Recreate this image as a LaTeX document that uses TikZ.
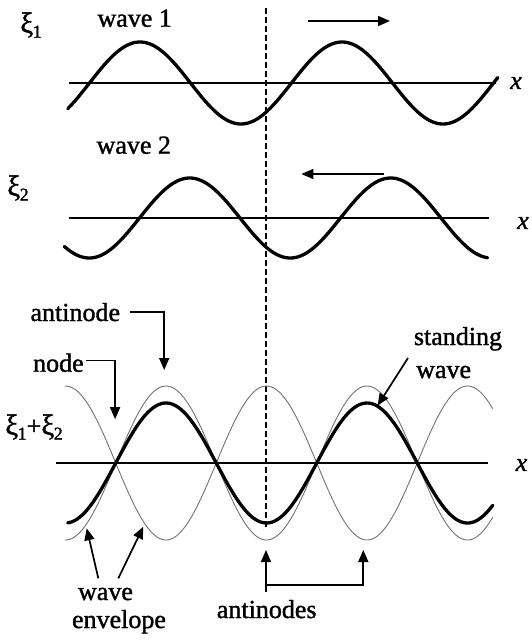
\documentclass[tikz,border=0pt]{standalone}
\usepackage{fontspec}
\setmainfont{Liberation Serif}
\newfontfamily\lblfont{Liberation Serif}[FakeBold=1.3]
\usetikzlibrary{arrows.meta}
\newcommand\xisub[1]{{\fontsize{29}{29}\selectfont ξ}\kern-0.5pt\raisebox{-5pt}{\fontsize{18}{18}\selectfont #1}}
\begin{document}
\begin{tikzpicture}[x=1pt,y=-1pt,
  lbl/.style={font=\lblfont\fontsize{26}{28}\selectfont, inner sep=0pt},
  axis/.style={line width=1.6pt},
  wave/.style={line width=3.3pt, line cap=round},
  env/.style={line width=0.9pt, black!55},
  arr/.style={line width=1.7pt, -{Triangle[length=12pt,width=10pt]}},
  guide/.style={line width=2pt, dash pattern=on 6pt off 3pt}]
\useasboundingbox[fill=white] (0,0) rectangle (531,643);

% dashed reference line
\coordinate (gTop) at (265.5,8);
\coordinate (gBot) at (265.5,529);
\draw[guide] (gTop) -- (gBot);

% ---------- wave 1 ----------
\coordinate (a1L) at (69.4,83);
\coordinate (a1R) at (496,83);
\draw[axis] (a1L) -- (a1R);
\draw[wave] plot[domain=67.7:497.8, samples=220] (\x, {83-41*sin(((\x-89.5)/202)*360)});
\node[lbl] (xi1) at (31,25) {\xisub{1}};
\node[lbl, anchor=base] (w1) at (134.7,26.7) {wave 1};
\node[lbl] (x1) at (516,83) {\textit{x}};
\coordinate (r1S) at (308,21);
\coordinate (r1T) at (390,21);
\draw[arr] (r1S) -- (r1T);

% ---------- wave 2 ----------
\coordinate (a2L) at (69.4,218);
\coordinate (a2R) at (488.7,218);
\draw[axis] (a2L) -- (a2R);
\draw[wave] plot[domain=64.3:487.6, samples=220] (\x, {218-40*sin(((\x-139.5)/201)*360)});
\node[lbl] (xi2) at (18,188) {\xisub{2}};
\node[lbl, anchor=base] (w2) at (133.8,153.7) {wave 2};
\node[lbl] (x2) at (523,223) {\textit{x}};
\coordinate (l2S) at (384.4,174);
\coordinate (l2T) at (301.4,174);
\draw[arr] (l2S) -- (l2T);

% ---------- standing wave ----------
\draw[env] plot[domain=65:492.7, samples=220] (\x, {463-77*cos(((\x-166)/201)*360)});
\draw[env] plot[domain=65:492.7, samples=220] (\x, {463+77*cos(((\x-166)/201)*360)});
\coordinate (a3L) at (56,463);
\coordinate (a3R) at (487.6,463);
\draw[axis] (a3L) -- (a3R);
\draw[wave] plot[domain=67.7:492.7, samples=220] (\x, {463-60*cos(((\x-166)/201)*360)});
\node[lbl] (xisum) at (34,427) {\xisub{1}+\xisub{2}};
\node[lbl] (x3) at (521.5,465) {\textit{x}};

% labels with arrows
\node[lbl, anchor=base] (antinode) at (75.3,321) {antinode};
\coordinate (anS) at (130.4,311.8);
\coordinate (anT) at (164.2,370);
\draw[arr] (anS) -| (anT);

\node[lbl, anchor=base] (nodelbl) at (58.4,371.7) {node};
\coordinate (ndS) at (86.4,360.6);
\coordinate (ndT) at (115.1,419.2);
\draw[arr] (ndS) -| (ndT);

\node[lbl, anchor=base] (standing) at (458,345) {standing};
\node[lbl, anchor=base] (swave) at (443.6,378) {wave};
\coordinate (swS) at (408,358);
\coordinate (swT) at (377.6,405.6);
\draw[arr] (swS) -- (swT);

\node[lbl, anchor=base] (ewave) at (105.5,600) {wave};
\node[lbl, anchor=base] (envelope) at (119,628) {envelope};
\coordinate (e1S) at (98.3,578.3);
\coordinate (e1T) at (86.7,528.3);
\coordinate (e2S) at (118.3,578.3);
\coordinate (e2T) at (143.3,526.7);
\draw[arr] (e1S) -- (e1T);
\draw[arr] (e2S) -- (e2T);

\node[lbl, anchor=base] (antinodes) at (266.7,618) {antinodes};
\coordinate (aaS) at (266,591.7);
\coordinate (aaT) at (266,550);
\coordinate (abS) at (266,585);
\coordinate (abT) at (363.3,550);
\draw[arr] (aaS) -- (aaT);
\draw[arr] (abS) -| (abT);
\end{tikzpicture}
\end{document}
